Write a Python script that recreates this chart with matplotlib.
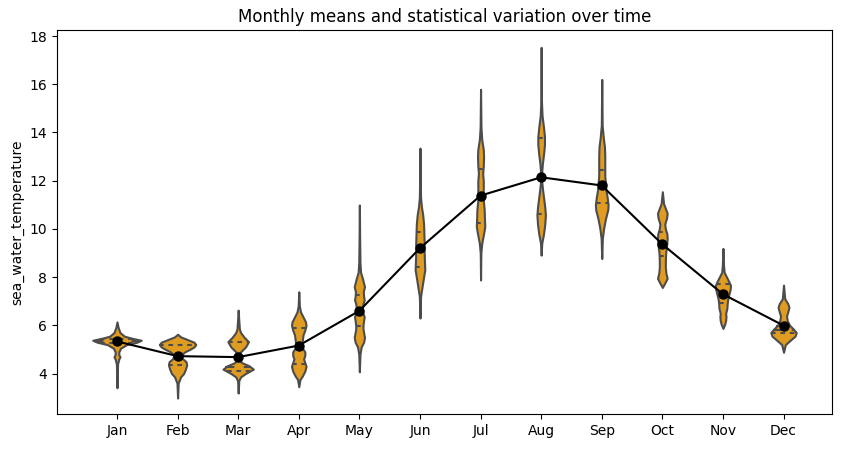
import numpy as np
import matplotlib
matplotlib.use("Agg")
import matplotlib.pyplot as plt

months = ["Jan", "Feb", "Mar", "Apr", "May", "Jun",
          "Jul", "Aug", "Sep", "Oct", "Nov", "Dec"]

# monthly means of sea_water_temperature
monthly_means = [5.33, 4.72, 4.68, 5.16, 6.60, 9.20,
                 11.38, 12.14, 11.80, 9.36, 7.29, 5.99]

# quartiles (25%, 50%, 75%) per month
q25 = [5.27, 4.35, 4.10, 4.39, 5.97, 8.43, 10.25, 10.60, 11.08, 8.87, 6.93, 5.69]
q50 = [5.35, 4.75, 4.26, 5.10, 6.60, 9.20, 11.40, 12.15, 11.80, 9.40, 7.35, 5.82]
q75 = [5.44, 5.20, 5.32, 5.90, 7.25, 9.88, 12.50, 13.75, 12.44, 9.88, 7.70, 5.96]

# violin outlines: temperature and half width (category units)
profile_temps = [
    [3.41, 4.4, 4.6, 4.69, 4.78, 4.9, 5.05, 5.2, 5.3, 5.38, 5.46, 5.55, 5.7, 5.9, 6.14],
    [2.98, 3.6, 3.86, 4.0, 4.18, 4.35, 4.49, 4.62, 4.77, 4.9, 5.0, 5.1, 5.2, 5.3, 5.42, 5.52, 5.63],
    [3.19, 3.7, 3.86, 4.0, 4.18, 4.32, 4.45, 4.55, 4.68, 4.85, 4.95, 5.1, 5.32, 5.5, 5.7, 5.85, 6.2, 6.63],
    [3.45, 3.75, 3.9, 4.1, 4.3, 4.45, 4.6, 4.75, 4.9, 5.05, 5.2, 5.4, 5.6, 5.8, 6.0, 6.15, 6.35, 6.55, 6.8, 7.39],
    [4.07, 4.8, 5.1, 5.3, 5.5, 5.7, 5.85, 6.0, 6.2, 6.35, 6.5, 6.7, 6.9, 7.05, 7.2, 7.4, 7.6, 7.75, 7.95, 8.2, 8.6, 9.5, 10.99],
    [6.3, 7.2, 7.6, 8.0, 8.3, 8.6, 9.0, 9.4, 9.8, 10.2, 10.6, 10.9, 11.3, 12.0, 13.35],
    [7.88, 9.0, 9.4, 9.8, 10.1, 10.4, 10.8, 11.2, 11.6, 12.0, 12.3, 12.6, 13.0, 13.3, 13.7, 14.2, 15.79],
    [8.91, 9.4, 9.8, 10.2, 10.57, 10.9, 11.3, 11.7, 12.0, 12.3, 12.7, 13.1, 13.5, 13.82, 14.2, 14.7, 15.3, 17.53],
    [8.77, 9.6, 10.0, 10.4, 10.8, 11.0, 11.3, 11.6, 11.9, 12.2, 12.6, 13.0, 13.4, 13.8, 14.3, 16.2],
    [7.57, 7.75, 7.95, 8.15, 8.4, 8.7, 9.0, 9.3, 9.6, 9.8, 10.0, 10.2, 10.45, 10.65, 10.85, 11.05, 11.54],
    [5.87, 6.05, 6.2, 6.35, 6.5, 6.7, 6.9, 7.1, 7.3, 7.5, 7.65, 7.8, 8.0, 8.2, 8.5, 9.19],
    [4.88, 5.2, 5.4, 5.55, 5.7, 5.85, 6.0, 6.2, 6.4, 6.55, 6.75, 6.9, 7.1, 7.67],
]
profile_widths = [
    [0, 0.01, 0.03, 0.05, 0.03, 0.03, 0.06, 0.16, 0.33, 0.40, 0.25, 0.12, 0.05, 0.02, 0],
    [0, 0.01, 0.05, 0.10, 0.13, 0.15, 0.14, 0.08, 0.06, 0.12, 0.20, 0.27, 0.30, 0.27, 0.15, 0.05, 0],
    [0, 0.01, 0.04, 0.12, 0.25, 0.18, 0.06, 0.02, 0.01, 0.02, 0.06, 0.12, 0.17, 0.10, 0.04, 0.02, 0.01, 0],
    [0, 0.02, 0.06, 0.10, 0.12, 0.10, 0.08, 0.10, 0.10, 0.06, 0.05, 0.06, 0.07, 0.10, 0.12, 0.11, 0.07, 0.03, 0.01, 0],
    [0, 0.01, 0.03, 0.07, 0.085, 0.07, 0.06, 0.06, 0.07, 0.08, 0.06, 0.05, 0.06, 0.08, 0.07, 0.065, 0.085, 0.07, 0.05, 0.02, 0.01, 0.005, 0],
    [0, 0.01, 0.035, 0.06, 0.08, 0.075, 0.07, 0.07, 0.065, 0.06, 0.045, 0.025, 0.01, 0.005, 0],
    [0, 0.005, 0.02, 0.05, 0.07, 0.065, 0.06, 0.045, 0.045, 0.045, 0.035, 0.045, 0.05, 0.045, 0.02, 0.007, 0],
    [0, 0.01, 0.04, 0.06, 0.07, 0.06, 0.04, 0.02, 0.008, 0.008, 0.02, 0.04, 0.055, 0.055, 0.04, 0.015, 0.005, 0],
    [0, 0.01, 0.03, 0.06, 0.10, 0.105, 0.09, 0.07, 0.06, 0.05, 0.05, 0.05, 0.045, 0.025, 0.007, 0],
    [0, 0.04, 0.08, 0.06, 0.05, 0.05, 0.055, 0.07, 0.08, 0.075, 0.05, 0.04, 0.07, 0.08, 0.05, 0.02, 0],
    [0, 0.03, 0.045, 0.05, 0.045, 0.065, 0.07, 0.08, 0.10, 0.12, 0.125, 0.10, 0.06, 0.02, 0.01, 0],
    [0, 0.03, 0.12, 0.19, 0.21, 0.16, 0.10, 0.06, 0.05, 0.07, 0.09, 0.07, 0.02, 0],
]

fill_color = "#df9c20"
edge_color = "#4c4c4c"

fig = plt.figure(figsize=(8.42, 4.49), dpi=100)
ax = fig.add_axes([57 / 842, 35 / 449, 775 / 842, 384 / 449])

for i in range(len(months)):
    y = np.array(profile_temps[i])
    w = np.array(profile_widths[i])
    ax.fill_betweenx(y, i - w, i + w, facecolor=fill_color,
                     edgecolor=edge_color, linewidth=1.5, zorder=1)
    # quartile lines across the violin (seaborn style dashes)
    for q, dash in ((q25[i], (2.25, 2.25)), (q50[i], (4.5, 4.5)), (q75[i], (2.25, 2.25))):
        hw = np.interp(q, y, w)
        ax.plot([i - hw, i + hw], [q, q], color=edge_color, linewidth=1.5,
                dashes=dash, zorder=2)

# means over the violins
ax.plot(range(len(months)), monthly_means, color="black", marker="o",
        markersize=6.5, linewidth=1.5, zorder=3)

ax.set_xticks(range(len(months)))
ax.set_xticklabels(months)
ax.set_xlim(-0.99, 11.8)
ax.set_ylim(2.32, 18.25)
ax.set_yticks([4, 6, 8, 10, 12, 14, 16, 18])
ax.set_ylabel("sea_water_temperature")
ax.set_title("Monthly means and statistical variation over time")

fig.savefig("out.png", dpi=100)
